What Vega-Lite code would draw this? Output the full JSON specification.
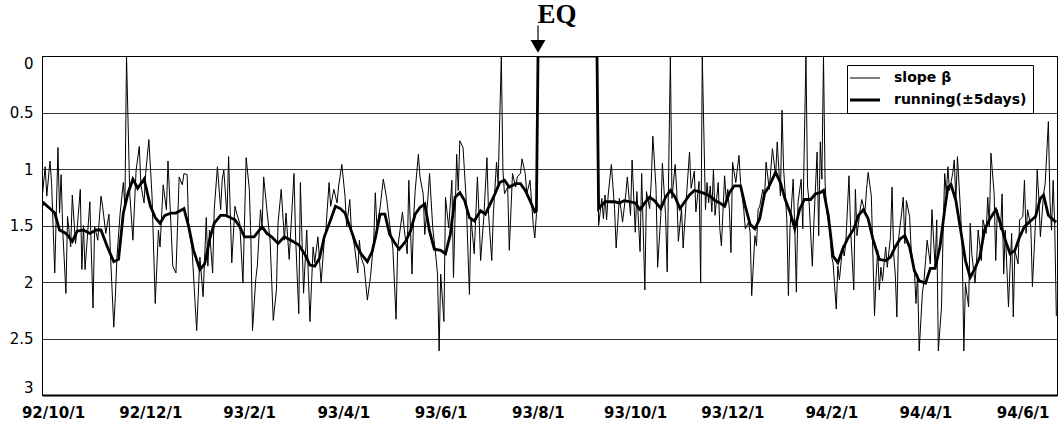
{
"$schema": "https://vega.github.io/schema/vega-lite/v6.json",
"width": 1015,
"height": 339,
"autosize": {"type": "none"},
"padding": {"left": 42, "top": 56, "right": 2, "bottom": 35},
"background": "white",
"datasets": {
"beta": [
{"d":"1992-10-01","v":1.27},{"d":"1992-10-03","v":0.98},{"d":"1992-10-04","v":1.24},{"d":"1992-10-06","v":0.93},{"d":"1992-10-07","v":1.12},{"d":"1992-10-09","v":1.92},{"d":"1992-10-11","v":0.81},{"d":"1992-10-12","v":1.39},{"d":"1992-10-13","v":1.05},{"d":"1992-10-14","v":1.54},{"d":"1992-10-16","v":2.10},{"d":"1992-10-17","v":1.42},{"d":"1992-10-19","v":1.69},{"d":"1992-10-20","v":1.23},{"d":"1992-10-22","v":1.66},{"d":"1992-10-23","v":1.54},{"d":"1992-10-25","v":1.18},{"d":"1992-10-26","v":1.89},{"d":"1992-10-27","v":1.50},{"d":"1992-10-28","v":1.89},{"d":"1992-10-31","v":1.29},
{"d":"1992-11-02","v":2.23},{"d":"1992-11-03","v":1.51},{"d":"1992-11-05","v":1.63},{"d":"1992-11-07","v":1.24},{"d":"1992-11-08","v":1.33},{"d":"1992-11-10","v":1.57},{"d":"1992-11-12","v":1.40},{"d":"1992-11-13","v":1.78},{"d":"1992-11-15","v":2.40},{"d":"1992-11-16","v":2.13},{"d":"1992-11-17","v":1.78},{"d":"1992-11-19","v":1.39},{"d":"1992-11-21","v":1.12},{"d":"1992-11-22","v":1.33},{"d":"1992-11-23","v":0},{"d":"1992-11-25","v":1.21},{"d":"1992-11-27","v":1.63},{"d":"1992-11-29","v":1.01},
{"d":"1992-12-01","v":0.80},{"d":"1992-12-02","v":1.14},{"d":"1992-12-04","v":1.30},{"d":"1992-12-05","v":1.04},{"d":"1992-12-07","v":0.74},{"d":"1992-12-09","v":1.24},{"d":"1992-12-11","v":2.19},{"d":"1992-12-13","v":1.54},{"d":"1992-12-14","v":1.69},{"d":"1992-12-16","v":1.14},{"d":"1992-12-18","v":1.36},{"d":"1992-12-19","v":0.93},{"d":"1992-12-21","v":1.54},{"d":"1992-12-22","v":1.86},{"d":"1992-12-24","v":1.92},{"d":"1992-12-26","v":1.07},{"d":"1992-12-28","v":1.14},{"d":"1992-12-29","v":1.04},{"d":"1992-12-31","v":1.05},
{"d":"1993-01-01","v":1.54},{"d":"1993-01-03","v":1.69},{"d":"1993-01-05","v":2.19},{"d":"1993-01-06","v":2.43},{"d":"1993-01-08","v":1.78},{"d":"1993-01-10","v":2.13},{"d":"1993-01-12","v":1.43},{"d":"1993-01-13","v":1.86},{"d":"1993-01-14","v":1.54},{"d":"1993-01-16","v":1.92},{"d":"1993-01-17","v":1.36},{"d":"1993-01-19","v":0.98},{"d":"1993-01-21","v":1.36},{"d":"1993-01-22","v":1.09},{"d":"1993-01-23","v":1.01},{"d":"1993-01-25","v":1.42},{"d":"1993-01-26","v":0.89},{"d":"1993-01-28","v":1.83},{"d":"1993-01-30","v":1.33},{"d":"1993-01-31","v":1.39},
{"d":"1993-02-02","v":1.48},{"d":"1993-02-04","v":2.01},{"d":"1993-02-06","v":0.90},{"d":"1993-02-08","v":1.18},{"d":"1993-02-09","v":1.63},{"d":"1993-02-10","v":2.43},{"d":"1993-02-12","v":1.98},{"d":"1993-02-13","v":1.86},{"d":"1993-02-15","v":1.36},{"d":"1993-02-16","v":1.51},{"d":"1993-02-17","v":1.07},{"d":"1993-02-19","v":1.36},{"d":"1993-02-21","v":1.63},{"d":"1993-02-23","v":2.34},{"d":"1993-02-25","v":2.07},{"d":"1993-02-26","v":1.48},{"d":"1993-02-28","v":1.18},
{"d":"1993-03-02","v":1.63},{"d":"1993-03-03","v":1.39},{"d":"1993-03-05","v":1.80},{"d":"1993-03-08","v":1.04},{"d":"1993-03-09","v":1.60},{"d":"1993-03-11","v":2.28},{"d":"1993-03-12","v":1.12},{"d":"1993-03-14","v":2.10},{"d":"1993-03-16","v":1.54},{"d":"1993-03-18","v":2.35},{"d":"1993-03-20","v":1.69},{"d":"1993-03-21","v":1.83},{"d":"1993-03-23","v":1.60},{"d":"1993-03-25","v":2.01},{"d":"1993-03-27","v":1.63},{"d":"1993-03-28","v":1.54},{"d":"1993-03-30","v":1.12},{"d":"1993-03-31","v":1.33},
{"d":"1993-04-02","v":1.18},{"d":"1993-04-04","v":1.30},{"d":"1993-04-05","v":1.15},{"d":"1993-04-07","v":0.96},{"d":"1993-04-09","v":1.24},{"d":"1993-04-10","v":1.51},{"d":"1993-04-12","v":1.27},{"d":"1993-04-13","v":1.54},{"d":"1993-04-15","v":1.69},{"d":"1993-04-17","v":1.92},{"d":"1993-04-18","v":1.63},{"d":"1993-04-19","v":1.78},{"d":"1993-04-21","v":1.86},{"d":"1993-04-23","v":2.16},{"d":"1993-04-25","v":1.95},{"d":"1993-04-27","v":1.63},{"d":"1993-04-28","v":1.21},{"d":"1993-04-29","v":1.52},
{"d":"1993-05-01","v":1.34},{"d":"1993-05-03","v":1.09},{"d":"1993-05-05","v":1.25},{"d":"1993-05-07","v":1.49},{"d":"1993-05-09","v":1.70},{"d":"1993-05-11","v":2.33},{"d":"1993-05-12","v":1.70},{"d":"1993-05-15","v":1.38},{"d":"1993-05-16","v":1.52},{"d":"1993-05-18","v":1.75},{"d":"1993-05-19","v":1.10},{"d":"1993-05-21","v":1.93},{"d":"1993-05-22","v":1.43},{"d":"1993-05-23","v":1.19},{"d":"1993-05-25","v":0.87},{"d":"1993-05-26","v":1.07},{"d":"1993-05-28","v":1.22},{"d":"1993-05-29","v":1.58},{"d":"1993-05-31","v":1.25},
{"d":"1993-06-01","v":1.04},{"d":"1993-06-03","v":1.52},{"d":"1993-06-05","v":1.78},{"d":"1993-06-06","v":1.93},{"d":"1993-06-07","v":2.61},{"d":"1993-06-08","v":1.93},{"d":"1993-06-10","v":2.35},{"d":"1993-06-11","v":1.25},{"d":"1993-06-13","v":1.52},{"d":"1993-06-15","v":1.10},{"d":"1993-06-16","v":1.96},{"d":"1993-06-18","v":0.87},{"d":"1993-06-19","v":1.19},{"d":"1993-06-20","v":0.75},{"d":"1993-06-22","v":0.81},{"d":"1993-06-24","v":1.28},{"d":"1993-06-26","v":2.11},{"d":"1993-06-27","v":1.43},{"d":"1993-06-29","v":1.75},
{"d":"1993-07-01","v":1.07},{"d":"1993-07-02","v":1.40},{"d":"1993-07-03","v":1.81},{"d":"1993-07-05","v":1.43},{"d":"1993-07-07","v":0.90},{"d":"1993-07-08","v":1.40},{"d":"1993-07-10","v":1.81},{"d":"1993-07-11","v":1.40},{"d":"1993-07-13","v":0.94},{"d":"1993-07-14","v":1.13},{"d":"1993-07-16","v":0},{"d":"1993-07-17","v":1.01},{"d":"1993-07-18","v":1.22},{"d":"1993-07-20","v":1.16},{"d":"1993-07-21","v":1.72},{"d":"1993-07-23","v":1.04},{"d":"1993-07-25","v":1.16},{"d":"1993-07-26","v":1.07},{"d":"1993-07-28","v":1.04},{"d":"1993-07-29","v":0.91},{"d":"1993-07-31","v":1.04},
{"d":"1993-08-01","v":1.22},{"d":"1993-08-03","v":1.10},{"d":"1993-08-05","v":1.49},{"d":"1993-08-06","v":1.61},{"d":"1993-08-07","v":1.40},{"d":"1993-08-08","v":0},{"d":"1993-09-14","v":0},
{"d":"1993-09-15","v":1.50},{"d":"1993-09-17","v":1.26},{"d":"1993-09-18","v":1.44},{"d":"1993-09-19","v":1.23},{"d":"1993-09-20","v":1.45},{"d":"1993-09-21","v":1.23},{"d":"1993-09-23","v":0.96},{"d":"1993-09-25","v":1.35},{"d":"1993-09-26","v":1.70},{"d":"1993-09-28","v":1.26},{"d":"1993-09-29","v":1.35},{"d":"1993-09-30","v":1.47},
{"d":"1993-10-02","v":1.23},{"d":"1993-10-03","v":1.07},{"d":"1993-10-05","v":1.41},{"d":"1993-10-06","v":0.92},{"d":"1993-10-08","v":1.56},{"d":"1993-10-09","v":1.20},{"d":"1993-10-11","v":1.73},{"d":"1993-10-12","v":1.04},{"d":"1993-10-14","v":2.07},{"d":"1993-10-15","v":1.20},{"d":"1993-10-17","v":1.35},{"d":"1993-10-18","v":1.11},{"d":"1993-10-19","v":0.71},{"d":"1993-10-21","v":1.17},{"d":"1993-10-22","v":1.87},{"d":"1993-10-24","v":1.41},{"d":"1993-10-25","v":0.95},{"d":"1993-10-27","v":1.41},{"d":"1993-10-28","v":1.91},{"d":"1993-10-30","v":0},{"d":"1993-10-31","v":1.26},
{"d":"1993-11-02","v":0.96},{"d":"1993-11-03","v":1.20},{"d":"1993-11-04","v":1.64},{"d":"1993-11-06","v":1.35},{"d":"1993-11-07","v":1.70},{"d":"1993-11-09","v":1.26},{"d":"1993-11-11","v":0.85},{"d":"1993-11-12","v":1.17},{"d":"1993-11-14","v":1.02},{"d":"1993-11-15","v":1.38},{"d":"1993-11-17","v":1.11},{"d":"1993-11-18","v":2.01},{"d":"1993-11-19","v":0},{"d":"1993-11-21","v":1.36},{"d":"1993-11-22","v":1.12},{"d":"1993-11-23","v":1.30},{"d":"1993-11-24","v":1.15},{"d":"1993-11-25","v":1.38},{"d":"1993-11-26","v":1.00},{"d":"1993-11-27","v":1.41},{"d":"1993-11-29","v":1.12},{"d":"1993-11-30","v":1.53},
{"d":"1993-12-01","v":1.68},{"d":"1993-12-03","v":1.06},{"d":"1993-12-04","v":1.27},{"d":"1993-12-05","v":1.18},{"d":"1993-12-06","v":1.36},{"d":"1993-12-07","v":1.74},{"d":"1993-12-08","v":0.94},{"d":"1993-12-10","v":1.12},{"d":"1993-12-11","v":1.00},{"d":"1993-12-12","v":0.88},{"d":"1993-12-13","v":1.12},{"d":"1993-12-15","v":1.36},{"d":"1993-12-16","v":1.53},{"d":"1993-12-18","v":1.47},{"d":"1993-12-19","v":1.56},{"d":"1993-12-20","v":2.12},{"d":"1993-12-22","v":1.59},{"d":"1993-12-23","v":1.68},{"d":"1993-12-24","v":1.36},{"d":"1993-12-25","v":1.33},{"d":"1993-12-27","v":1.18},{"d":"1993-12-28","v":1.27},{"d":"1993-12-29","v":0.94},{"d":"1993-12-31","v":1.18},
{"d":"1994-01-01","v":1.00},{"d":"1994-01-02","v":0.82},{"d":"1994-01-04","v":1.06},{"d":"1994-01-05","v":0.76},{"d":"1994-01-07","v":1.24},{"d":"1994-01-08","v":0.48},{"d":"1994-01-09","v":1.00},{"d":"1994-01-11","v":1.44},{"d":"1994-01-12","v":2.12},{"d":"1994-01-13","v":1.53},{"d":"1994-01-15","v":1.09},{"d":"1994-01-16","v":1.53},{"d":"1994-01-17","v":2.09},{"d":"1994-01-18","v":1.30},{"d":"1994-01-20","v":1.09},{"d":"1994-01-21","v":1.53},{"d":"1994-01-22","v":0.76},{"d":"1994-01-23","v":0},{"d":"1994-01-24","v":1.15},{"d":"1994-01-25","v":1.30},{"d":"1994-01-27","v":1.86},{"d":"1994-01-28","v":1.47},{"d":"1994-01-30","v":0.85},{"d":"1994-01-31","v":1.59},
{"d":"1994-02-01","v":0.76},{"d":"1994-02-02","v":1.09},{"d":"1994-02-03","v":0},{"d":"1994-02-04","v":1.12},{"d":"1994-02-05","v":1.38},{"d":"1994-02-07","v":1.53},{"d":"1994-02-08","v":1.77},{"d":"1994-02-09","v":1.83},{"d":"1994-02-11","v":2.24},{"d":"1994-02-12","v":1.86},{"d":"1994-02-13","v":1.98},{"d":"1994-02-15","v":1.68},{"d":"1994-02-16","v":1.77},{"d":"1994-02-17","v":1.65},{"d":"1994-02-19","v":1.06},{"d":"1994-02-20","v":1.53},{"d":"1994-02-22","v":2.07},{"d":"1994-02-23","v":1.18},{"d":"1994-02-24","v":1.59},{"d":"1994-02-26","v":1.36},{"d":"1994-02-27","v":1.27},
{"d":"1994-03-01","v":1.38},{"d":"1994-03-02","v":1.18},{"d":"1994-03-03","v":1.03},{"d":"1994-03-05","v":1.24},{"d":"1994-03-06","v":1.77},{"d":"1994-03-07","v":2.30},{"d":"1994-03-08","v":1.95},{"d":"1994-03-09","v":1.72},{"d":"1994-03-10","v":2.07},{"d":"1994-03-11","v":1.87},{"d":"1994-03-12","v":1.99},{"d":"1994-03-14","v":1.69},{"d":"1994-03-15","v":1.87},{"d":"1994-03-17","v":1.60},{"d":"1994-03-18","v":1.16},{"d":"1994-03-19","v":1.75},{"d":"1994-03-20","v":1.93},{"d":"1994-03-21","v":2.31},{"d":"1994-03-22","v":1.63},{"d":"1994-03-24","v":1.39},{"d":"1994-03-25","v":1.25},{"d":"1994-03-26","v":1.66},{"d":"1994-03-27","v":1.28},{"d":"1994-03-29","v":1.42},{"d":"1994-03-30","v":1.72},
{"d":"1994-04-01","v":1.90},{"d":"1994-04-02","v":2.19},{"d":"1994-04-03","v":1.93},{"d":"1994-04-04","v":2.61},{"d":"1994-04-06","v":2.10},{"d":"1994-04-07","v":1.99},{"d":"1994-04-08","v":1.81},{"d":"1994-04-09","v":1.63},{"d":"1994-04-11","v":1.84},{"d":"1994-04-12","v":1.36},{"d":"1994-04-14","v":1.87},{"d":"1994-04-15","v":1.45},{"d":"1994-04-16","v":2.61},{"d":"1994-04-18","v":2.22},{"d":"1994-04-19","v":1.57},{"d":"1994-04-20","v":1.04},{"d":"1994-04-21","v":1.22},{"d":"1994-04-22","v":0.98},{"d":"1994-04-23","v":1.19},{"d":"1994-04-25","v":1.04},{"d":"1994-04-26","v":0.92},{"d":"1994-04-27","v":1.28},{"d":"1994-04-28","v":0.89},{"d":"1994-04-30","v":1.39},
{"d":"1994-05-01","v":1.72},{"d":"1994-05-02","v":2.61},{"d":"1994-05-03","v":2.01},{"d":"1994-05-05","v":2.22},{"d":"1994-05-06","v":1.48},{"d":"1994-05-07","v":1.75},{"d":"1994-05-09","v":2.01},{"d":"1994-05-10","v":1.81},{"d":"1994-05-11","v":1.54},{"d":"1994-05-13","v":1.81},{"d":"1994-05-14","v":1.45},{"d":"1994-05-16","v":1.57},{"d":"1994-05-17","v":1.25},{"d":"1994-05-18","v":1.51},{"d":"1994-05-19","v":0.86},{"d":"1994-05-21","v":1.22},{"d":"1994-05-22","v":1.81},{"d":"1994-05-23","v":1.36},{"d":"1994-05-25","v":1.54},{"d":"1994-05-26","v":1.22},{"d":"1994-05-27","v":1.93},{"d":"1994-05-28","v":1.54},{"d":"1994-05-30","v":2.22},{"d":"1994-05-31","v":1.87},
{"d":"1994-06-01","v":1.57},{"d":"1994-06-02","v":2.31},{"d":"1994-06-03","v":1.72},{"d":"1994-06-05","v":1.84},{"d":"1994-06-06","v":1.45},{"d":"1994-06-08","v":1.42},{"d":"1994-06-09","v":1.10},{"d":"1994-06-10","v":1.57},{"d":"1994-06-11","v":1.36},{"d":"1994-06-13","v":1.51},{"d":"1994-06-14","v":2.04},{"d":"1994-06-16","v":1.45},{"d":"1994-06-17","v":1.01},{"d":"1994-06-18","v":1.25},{"d":"1994-06-19","v":1.60},{"d":"1994-06-21","v":1.22},{"d":"1994-06-22","v":1.13},{"d":"1994-06-23","v":0.86},{"d":"1994-06-24","v":0.58},{"d":"1994-06-25","v":1.28},{"d":"1994-06-26","v":1.54},{"d":"1994-06-27","v":1.10},{"d":"1994-06-28","v":1.51},{"d":"1994-06-29","v":2.30}
],
"run": [
{"d":"1992-10-01","v":1.32},{"d":"1992-10-02","v":1.30},{"d":"1992-10-06","v":1.35},{"d":"1992-10-09","v":1.39},{"d":"1992-10-12","v":1.54},{"d":"1992-10-16","v":1.57},{"d":"1992-10-20","v":1.64},{"d":"1992-10-23","v":1.55},{"d":"1992-10-27","v":1.54},{"d":"1992-10-31","v":1.57},{"d":"1992-11-04","v":1.54},{"d":"1992-11-07","v":1.54},{"d":"1992-11-11","v":1.69},{"d":"1992-11-15","v":1.82},{"d":"1992-11-18","v":1.80},{"d":"1992-11-21","v":1.39},{"d":"1992-11-24","v":1.21},{"d":"1992-11-27","v":1.09},{"d":"1992-11-30","v":1.17},{"d":"1992-12-04","v":1.09},{"d":"1992-12-08","v":1.33},{"d":"1992-12-11","v":1.43},{"d":"1992-12-14","v":1.48},{"d":"1992-12-17","v":1.41},{"d":"1992-12-21","v":1.39},{"d":"1992-12-24","v":1.39},{"d":"1992-12-29","v":1.35},
{"d":"1993-01-01","v":1.51},{"d":"1993-01-04","v":1.72},{"d":"1993-01-08","v":1.89},{"d":"1993-01-11","v":1.84},{"d":"1993-01-14","v":1.63},{"d":"1993-01-17","v":1.48},{"d":"1993-01-21","v":1.41},{"d":"1993-01-24","v":1.41},{"d":"1993-01-27","v":1.43},{"d":"1993-01-30","v":1.45},{"d":"1993-02-02","v":1.51},{"d":"1993-02-05","v":1.60},{"d":"1993-02-08","v":1.60},{"d":"1993-02-11","v":1.60},{"d":"1993-02-16","v":1.51},{"d":"1993-02-19","v":1.57},{"d":"1993-02-22","v":1.60},{"d":"1993-02-26","v":1.66},{"d":"1993-03-02","v":1.60},{"d":"1993-03-06","v":1.63},{"d":"1993-03-11","v":1.67},{"d":"1993-03-15","v":1.76},{"d":"1993-03-18","v":1.85},{"d":"1993-03-21","v":1.86},{"d":"1993-03-24","v":1.79},{"d":"1993-03-27","v":1.60},{"d":"1993-03-31","v":1.45},
{"d":"1993-04-03","v":1.33},{"d":"1993-04-06","v":1.35},{"d":"1993-04-09","v":1.39},{"d":"1993-04-12","v":1.51},{"d":"1993-04-16","v":1.67},{"d":"1993-04-19","v":1.75},{"d":"1993-04-23","v":1.82},{"d":"1993-04-26","v":1.73},{"d":"1993-04-28","v":1.61},{"d":"1993-05-01","v":1.40},{"d":"1993-05-04","v":1.40},{"d":"1993-05-07","v":1.58},{"d":"1993-05-10","v":1.65},{"d":"1993-05-13","v":1.71},{"d":"1993-05-17","v":1.64},{"d":"1993-05-20","v":1.55},{"d":"1993-05-23","v":1.40},{"d":"1993-05-26","v":1.34},{"d":"1993-05-29","v":1.31},{"d":"1993-06-01","v":1.55},{"d":"1993-06-04","v":1.71},{"d":"1993-06-08","v":1.72},{"d":"1993-06-11","v":1.75},{"d":"1993-06-14","v":1.58},{"d":"1993-06-17","v":1.25},{"d":"1993-06-20","v":1.21},{"d":"1993-06-23","v":1.28},{"d":"1993-06-26","v":1.43},{"d":"1993-06-29","v":1.46},
{"d":"1993-07-03","v":1.37},{"d":"1993-07-06","v":1.40},{"d":"1993-07-09","v":1.31},{"d":"1993-07-12","v":1.22},{"d":"1993-07-15","v":1.12},{"d":"1993-07-18","v":1.10},{"d":"1993-07-21","v":1.16},{"d":"1993-07-25","v":1.13},{"d":"1993-07-28","v":1.13},{"d":"1993-07-31","v":1.19},{"d":"1993-08-03","v":1.28},{"d":"1993-08-06","v":1.38},{"d":"1993-08-07","v":1.37},{"d":"1993-08-08","v":0},{"d":"1993-09-14","v":0},
{"d":"1993-09-15","v":1.35},{"d":"1993-09-19","v":1.29},{"d":"1993-09-22","v":1.29},{"d":"1993-09-25","v":1.29},{"d":"1993-09-28","v":1.30},{"d":"1993-10-01","v":1.28},{"d":"1993-10-05","v":1.29},{"d":"1993-10-08","v":1.30},{"d":"1993-10-11","v":1.36},{"d":"1993-10-14","v":1.30},{"d":"1993-10-17","v":1.25},{"d":"1993-10-20","v":1.28},{"d":"1993-10-24","v":1.35},{"d":"1993-10-27","v":1.25},{"d":"1993-10-30","v":1.19},{"d":"1993-11-02","v":1.25},{"d":"1993-11-05","v":1.35},{"d":"1993-11-08","v":1.29},{"d":"1993-11-11","v":1.23},{"d":"1993-11-14","v":1.19},{"d":"1993-11-17","v":1.20},{"d":"1993-11-21","v":1.22},{"d":"1993-11-24","v":1.24},{"d":"1993-11-27","v":1.28},{"d":"1993-11-30","v":1.30},
{"d":"1993-12-03","v":1.33},{"d":"1993-12-06","v":1.21},{"d":"1993-12-09","v":1.15},{"d":"1993-12-13","v":1.15},{"d":"1993-12-16","v":1.33},{"d":"1993-12-19","v":1.49},{"d":"1993-12-22","v":1.53},{"d":"1993-12-25","v":1.44},{"d":"1993-12-28","v":1.22},{"d":"1993-12-31","v":1.15},{"d":"1994-01-04","v":1.03},{"d":"1994-01-07","v":1.12},{"d":"1994-01-10","v":1.27},{"d":"1994-01-13","v":1.38},{"d":"1994-01-16","v":1.53},{"d":"1994-01-19","v":1.36},{"d":"1994-01-22","v":1.27},{"d":"1994-01-26","v":1.27},{"d":"1994-01-29","v":1.22},{"d":"1994-02-01","v":1.21},{"d":"1994-02-03","v":1.19},{"d":"1994-02-06","v":1.41},{"d":"1994-02-09","v":1.77},{"d":"1994-02-12","v":1.83},{"d":"1994-02-15","v":1.71},{"d":"1994-02-18","v":1.62},{"d":"1994-02-22","v":1.53},{"d":"1994-02-25","v":1.41},{"d":"1994-02-28","v":1.36},
{"d":"1994-03-03","v":1.44},{"d":"1994-03-06","v":1.62},{"d":"1994-03-10","v":1.80},{"d":"1994-03-14","v":1.81},{"d":"1994-03-17","v":1.78},{"d":"1994-03-20","v":1.69},{"d":"1994-03-23","v":1.62},{"d":"1994-03-26","v":1.59},{"d":"1994-03-29","v":1.69},{"d":"1994-04-01","v":1.90},{"d":"1994-04-04","v":1.99},{"d":"1994-04-08","v":2.01},{"d":"1994-04-11","v":1.88},{"d":"1994-04-14","v":1.88},{"d":"1994-04-17","v":1.69},{"d":"1994-04-20","v":1.36},{"d":"1994-04-22","v":1.16},{"d":"1994-04-24","v":1.14},{"d":"1994-04-27","v":1.28},{"d":"1994-04-30","v":1.54},
{"d":"1994-05-03","v":1.81},{"d":"1994-05-06","v":1.96},{"d":"1994-05-09","v":1.88},{"d":"1994-05-12","v":1.78},{"d":"1994-05-15","v":1.54},{"d":"1994-05-18","v":1.45},{"d":"1994-05-22","v":1.36},{"d":"1994-05-25","v":1.48},{"d":"1994-05-28","v":1.63},{"d":"1994-05-31","v":1.75},{"d":"1994-06-03","v":1.72},{"d":"1994-06-06","v":1.60},{"d":"1994-06-09","v":1.51},{"d":"1994-06-12","v":1.47},{"d":"1994-06-16","v":1.42},{"d":"1994-06-19","v":1.26},{"d":"1994-06-21","v":1.23},{"d":"1994-06-24","v":1.41},{"d":"1994-06-27","v":1.45},{"d":"1994-06-29","v":1.47}
],
"eq": [{"d":"1993-08-08","label":"EQ"}]
},
"encoding": {
"x": {
"field": "d", "type": "temporal",
"scale": {"type": "utc", "domain": [{"year":1992,"month":10,"date":1,"utc":true},{"year":1994,"month":6,"date":29,"hours":10,"utc":true}]},
"axis": {
"values": [{"year":1992,"month":10,"date":1,"utc":true},{"year":1992,"month":12,"date":1,"utc":true},{"year":1993,"month":2,"date":1,"utc":true},{"year":1993,"month":4,"date":1,"utc":true},{"year":1993,"month":6,"date":1,"utc":true},{"year":1993,"month":8,"date":1,"utc":true},{"year":1993,"month":10,"date":1,"utc":true},{"year":1993,"month":12,"date":1,"utc":true},{"year":1994,"month":2,"date":1,"utc":true},{"year":1994,"month":4,"date":1,"utc":true},{"year":1994,"month":6,"date":1,"utc":true}],
"labelExpr": "utcFormat(datum.value, '%y/%-m/%-d')",
"title": null, "grid": false, "ticks": false,
"domain": true, "domainColor": "black", "domainWidth": 2,
"labelFont": "DejaVu Sans", "labelFontSize": 15, "labelFontWeight": "bold", "labelColor": "black",
"labelPadding": 10, "labelOffset": 11, "labelFlush": false, "labelOverlap": false, "labelBound": false
}
}
},
"layer": [
{
"data": {"name": "beta"},
"mark": {"type": "line", "strokeWidth": 1, "clip": true},
"encoding": {
"y": {"field": "v", "type": "quantitative",
"scale": {"domain": [0, 3], "reverse": true, "nice": false, "zero": false},
"axis": {"values": [0, 0.5, 1, 1.5, 2, 2.5, 3], "format": "~g", "title": null, "ticks": false, "domain": false, "grid": true, "gridColor": "black", "gridWidth": 0.8, "gridOpacity": 1, "labelPadding": 9, "labelFont": "DejaVu Sans", "labelFontSize": 15, "labelColor": "black", "labelFlush": true}},
"color": {"datum": "slope β", "type": "nominal",
"scale": {"domain": ["slope β", "running(±5days)"], "range": ["#000000", "#000000"]},
"legend": {"orient": "none", "legendX": 805, "legendY": 9, "title": null, "symbolType": "stroke", "symbolSize": 900, "symbolOffset": 5, "strokeColor": "black", "fillColor": "white", "padding": 6, "labelOffset": 22, "labelFont": "DejaVu Sans", "labelFontSize": 14, "labelFontWeight": "bold", "labelColor": "black", "rowPadding": 8,
"encode": {"symbols": {"update": {"strokeWidth": {"signal": "datum.value == 'slope β' ? 1 : 3"}}}}}
}
}
},
{
"data": {"name": "run"},
"mark": {"type": "line", "strokeWidth": 2.8, "clip": true},
"encoding": {
"y": {"field": "v", "type": "quantitative", "axis": {"values": [0, 0.5, 1, 1.5, 2, 2.5, 3], "format": "~g", "title": null, "ticks": false, "domain": false, "grid": true, "gridColor": "black", "gridWidth": 0.8, "gridOpacity": 1, "labelPadding": 9, "labelFont": "DejaVu Sans", "labelFontSize": 15, "labelColor": "black", "labelFlush": true}},
"color": {"datum": "running(±5days)", "type": "nominal"}
}
},
{
"data": {"name": "eq"},
"mark": {"type": "rule", "color": "black", "strokeWidth": 1.2},
"encoding": {"y": {"datum": -0.27, "type": "quantitative"}, "y2": {"datum": -0.13}}
},
{
"data": {"name": "eq"},
"mark": {"type": "point", "shape": "triangle-down", "filled": true, "color": "black", "opacity": 1, "size": 220},
"encoding": {"y": {"datum": -0.085, "type": "quantitative"}}
},
{
"data": {"name": "eq"},
"mark": {"type": "text", "font": "Liberation Serif", "fontSize": 27, "fontWeight": "bold", "dx": 19, "align": "center", "baseline": "middle", "color": "black"},
"encoding": {"y": {"datum": -0.36, "type": "quantitative"}, "text": {"field": "label"}}
}
],
"config": {
"view": {"stroke": "black", "strokeWidth": 1},
"font": "DejaVu Sans"
}
}
